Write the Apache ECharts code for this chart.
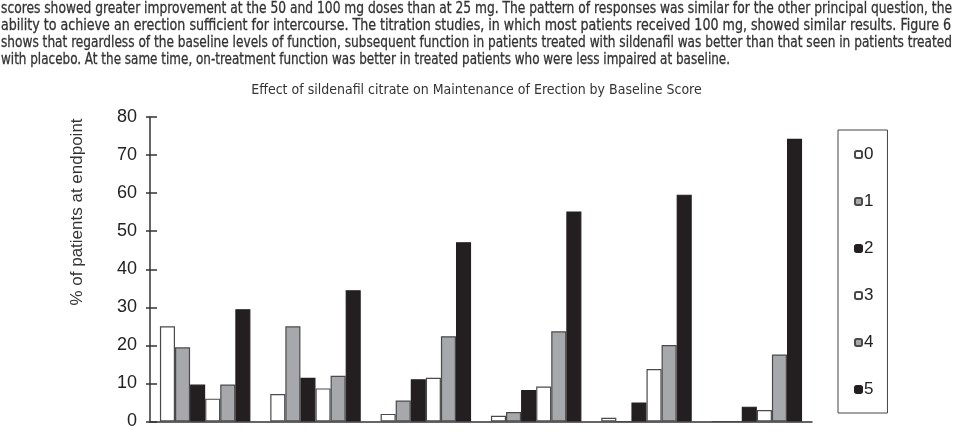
<!DOCTYPE html>
<html>
<head>
<meta charset="utf-8">
<script src="https://cdn.jsdelivr.net/npm/echarts@6/dist/echarts.min.js"></script>
<style>
  body { margin: 0; background: #fff; }
  #wrap { position: relative; width: 953px; height: 432px; overflow: hidden; }
  #text { position: absolute; left: 1px; top: -1px; color: #333;
          font-family: "Liberation Sans Narrow", "DejaVu Sans Condensed", sans-serif;
          font-size: 16px; line-height: 17px; -webkit-text-stroke: 0.3px #333; }
  #text div { white-space: nowrap; transform-origin: 0 0; }
  #text span { display: inline-block; }
  #chart { position: absolute; left: 0; top: 0; width: 953px; height: 432px; }
</style>
</head>
<body>
<div id="wrap">
  <div id="chart"></div>
  <div id="text"></div>
</div>
<script>
// text lines above the figure
const paraLines = [
  "scores showed greater improvement at the 50 and 100 mg doses than at 25 mg. The pattern of responses was similar for the other principal question, the",
  "ability to achieve an erection sufficient for intercourse. The titration studies, in which most patients received 100 mg, showed similar results. Figure 6",
  "shows that regardless of the baseline levels of function, subsequent function in patients treated with sildenafil was better than that seen in patients treated",
  "with placebo. At the same time, on-treatment function was better in treated patients who were less impaired at baseline."
];
const paraWidths = [951, 950, 951, 729];

// baseline score groups (labels are cut off in the figure)
const categories = ["0", "1", "2", "3", "4", "5"];
const seriesNames = ["0", "1", "2", "3", "4", "5"];
// % of patients at endpoint, one array per score
const score0 = [25, 7.2, 2, 1.5, 1, 0];
const score1 = [19.5, 25, 5.5, 2.5, 0, 0];
const score2 = [9.7, 11.5, 11.1, 8.3, 5, 3.9];
const score3 = [6, 8.7, 11.5, 9.2, 13.8, 3];
const score4 = [9.7, 12, 22.4, 23.7, 20.1, 17.6];
const score5 = [29.5, 34.5, 47.1, 55.2, 59.6, 74.3];
const yTicks = [0, 10, 20, 30, 40, 50, 60, 70, 80];

const allData = [score0, score1, score2, score3, score4, score5];
const fills = ["#ffffff", "#a7a8ab", "#231f20", "#ffffff", "#a7a8ab", "#231f20"];
const borders = ["#4a4a4a", "#4a4a4a", "#231f20", "#4a4a4a", "#4a4a4a", "#231f20"];

// paragraph, each line stretched to its measured width
const textBox = document.getElementById("text");
paraLines.forEach(function (line, i) {
  const div = document.createElement("div");
  const span = document.createElement("span");
  span.textContent = line;
  div.appendChild(span);
  textBox.appendChild(div);
  const w = span.getBoundingClientRect().width;
  div.style.transform = "scaleX(" + (paraWidths[i] / w) + ")";
});

const myChart = echarts.init(document.getElementById("chart"));

const option = {
  animation: false,
  title: {
    text: "Effect of sildenafil citrate on Maintenance of Erection by Baseline Score",
    left: "center",
    top: 83,
    padding: 0,
    textStyle: {
      fontFamily: "Liberation Sans Narrow, DejaVu Sans Condensed, sans-serif",
      fontSize: 14,
      fontWeight: "normal",
      color: "#333"
    }
  },
  // axis title sits higher than the middle of the axis in the original
  graphic: [{
    type: "text",
    rotation: Math.PI / 2,
    x: 77,
    y: 212,
    style: {
      text: "% of patients at endpoint",
      fontFamily: "Liberation Sans, Arial, sans-serif",
      fontSize: 17,
      fill: "#333",
      align: "center",
      verticalAlign: "middle"
    }
  }],
  legend: {
    orient: "vertical",
    left: 838,
    top: 130,
    padding: [16, 14, 15, 16],
    itemGap: 30,
    itemWidth: 7,
    itemHeight: 7,
    borderColor: "#444",
    borderWidth: 1,
    textStyle: { fontFamily: "Liberation Sans, Arial, sans-serif", fontSize: 17, color: "#222", padding: [0, 0, 0, -3] },
    data: seriesNames
  },
  grid: { left: 150, right: 141, top: 117, bottom: 10.5 },
  xAxis: [
    {
      type: "category",
      data: categories,
      position: "bottom",
      axisLine: { lineStyle: { color: "#333", width: 1.5 } },
      axisTick: { length: 7, lineStyle: { color: "#333", width: 1.5 } },
      axisLabel: { show: false }
    },
    {
      type: "category",
      data: categories,
      position: "bottom",
      axisLine: { show: false },
      axisTick: { inside: true, length: 6, lineStyle: { color: "#333", width: 1.5 } },
      axisLabel: { show: false }
    }
  ],
  yAxis: [
    {
      type: "value",
      min: yTicks[0],
      max: yTicks[yTicks.length - 1],
      interval: 10,
      axisLine: { show: true, lineStyle: { color: "#333", width: 1.5 } },
      axisTick: { show: true, length: 4, lineStyle: { color: "#333", width: 1.5 } },
      axisLabel: { margin: 13, fontFamily: "Liberation Sans, Arial, sans-serif", fontSize: 18, color: "#222" },
      splitLine: { show: false }
    },
    {
      type: "value",
      min: yTicks[0],
      max: yTicks[yTicks.length - 1],
      interval: 10,
      position: "left",
      axisLine: { show: false },
      axisTick: { show: true, inside: true, length: 7, lineStyle: { color: "#333", width: 1.5 } },
      axisLabel: { show: false },
      splitLine: { show: false }
    }
  ],
  series: seriesNames.map(function (name, i) {
    return {
      name: name,
      type: "bar",
      data: allData[i],
      barGap: "0%",
      barCategoryGap: "18%",
      itemStyle: { color: fills[i], borderColor: borders[i], borderWidth: 1.2 }
    };
  })
};

myChart.setOption(option);
</script>
</body>
</html>
